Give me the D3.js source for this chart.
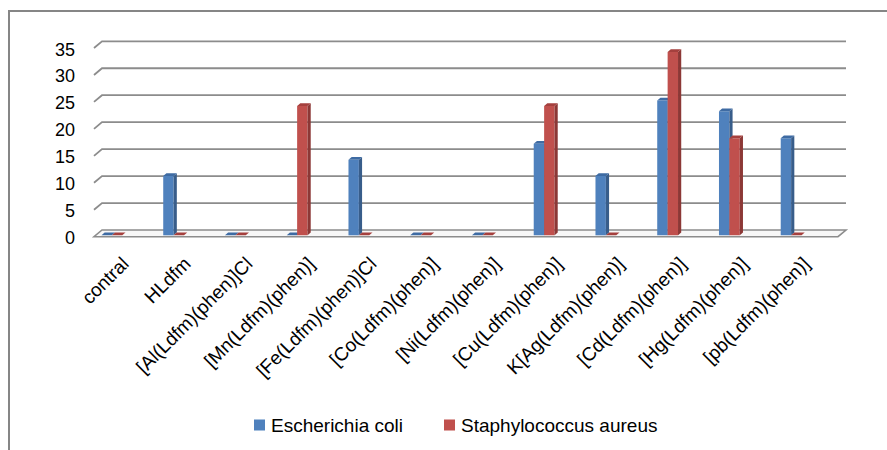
<!DOCTYPE html>
<html>
<head>
<meta charset="utf-8">
<script src="https://cdn.jsdelivr.net/npm/d3@7"></script>
<style>
  body { margin: 0; background: #fff; }
  svg text { font-family: "Liberation Sans", Arial, sans-serif; fill: #000; }
</style>
</head>
<body>
<div id="chart"></div>
<script>
// chart values
const categories = ['contral', 'HLdfm', '[Al(Ldfm)(phen)]Cl', '[Mn(Ldfm)(phen)]', '[Fe(Ldfm)(phen)]Cl',
  '[Co(Ldfm)(phen)]', '[Ni(Ldfm)(phen)]', '[Cu(Ldfm)(phen)]', 'K[Ag(Ldfm)(phen)]', '[Cd(Ldfm)(phen)]',
  '[Hg(Ldfm)(phen)]', '[pb(Ldfm)(phen)]']
const ecoli = [0, 11, 0, 0, 14, 0, 0, 17, 11, 25, 23, 18]
const saureus = [0, 0, 0, 24, 0, 0, 0, 24, 0, 34, 18, 0]
const seriesNames = ['Escherichia coli', 'Staphylococcus aureus']
const yTicks = [0, 5, 10, 15, 20, 25, 30, 35]

const width = 887
const height = 450
const depthX = 8     // oblique depth of the plot floor
const depthY = 6.7
const barW = 10.4
const colors = [
  { front: '#4F81BD', side: '#385D8A', top: '#3E6BA3' },
  { front: '#C0504D', side: '#8C3836', top: '#A5403E' }
]

const svg = d3.select('#chart').append('svg')
  .attr('width', width)
  .attr('height', height)

// chart area border
svg.append('rect')
  .attr('x', 9).attr('y', 11)
  .attr('width', 1000).attr('height', 1000)
  .style('fill', 'none')
  .style('stroke', '#868686')
  .attr('stroke-width', 2)

// back wall scale, and the scale of the bars' front faces
const yBack = d3.scaleLinear().domain([0, 35]).range([230, 41.3])
const yBar = d3.scaleLinear().domain([0, 35]).range([235.3, 46.6])
const xBack = [102, 846]
const xLabel = d3.scaleBand().domain(categories).range([94, 837])
const xBar = d3.scaleBand().domain(categories).range([81, 822])

// gridlines
const grid = svg.append('g').attr('class', 'grid')
yTicks.filter(t => t > 0).forEach(t => {
  let y = yBack(t)
  grid.append('path')
    .attr('d', `M${xBack[0] - depthX},${y + depthY}L${xBack[0]},${y}L${xBack[1]},${y}`)
    .style('fill', 'none')
    .style('stroke', '#8c8c8c')
    .attr('stroke-width', 1.8)
})

// floor
let y0 = yBack(0)
svg.append('path')
  .attr('d', `M${xBack[0]},${y0}L${xBack[1]},${y0}L${xBack[1] - depthX},${y0 + depthY}L${xBack[0] - depthX},${y0 + depthY}Z`)
  .style('fill', '#f7f7f7')
  .style('stroke', '#8c8c8c')
  .attr('stroke-width', 1.6)

// y labels
svg.append('g').selectAll('text')
  .data(yTicks)
  .enter().append('text')
    .attr('x', 75)
    .attr('y', d => yBack(d) + depthY + 1.5)
    .attr('text-anchor', 'end')
    .attr('dominant-baseline', 'central')
    .style('font-size', '18px')
    .text(d => d)

// bars
const dx = 3.2
const dy = 2.7
const bars = svg.append('g').attr('class', 'bars')
categories.forEach((c, i) => {
  let center = xBar(c) + xBar.step() / 2
  ;[ecoli[i], saureus[i]].forEach((v, s) => {
    let x0 = center - barW + s * barW
    let x1 = x0 + barW
    let yt = yBar(v)
    let yb = yBar(0)
    let g = bars.append('g')
    g.append('path')
      .attr('d', `M${x0},${yt}L${x1},${yt}L${x1},${yb}L${x0},${yb}Z`)
      .style('fill', colors[s].front)
    g.append('path')
      .attr('d', `M${x1},${yt}L${x1 + dx},${yt - dy}L${x1 + dx},${yb - dy}L${x1},${yb}Z`)
      .style('fill', colors[s].side)
    g.append('path')
      .attr('d', `M${x0},${yt}L${x1},${yt}L${x1 + dx},${yt - dy}L${x0 + dx},${yt - dy}Z`)
      .style('fill', colors[s].top)
  })
})

// category labels
svg.append('g').selectAll('text')
  .data(categories)
  .enter().append('text')
    .attr('text-anchor', 'end')
    .attr('transform', d => `translate(${xLabel(d) + xLabel.step() / 2 + 5}, 265) rotate(-45)`)
    .style('font-size', '19px')
    .text(d => d)

// legend
const legendX = [254, 444]
const legend = svg.append('g').attr('class', 'legend')
seriesNames.forEach((name, s) => {
  legend.append('rect')
    .attr('x', legendX[s]).attr('y', 419.5)
    .attr('width', 11).attr('height', 11)
    .style('fill', colors[s].front)
  legend.append('text')
    .attr('x', legendX[s] + 17)
    .attr('y', 432)
    .style('font-size', '19px')
    .text(name)
})
</script>
</body>
</html>
